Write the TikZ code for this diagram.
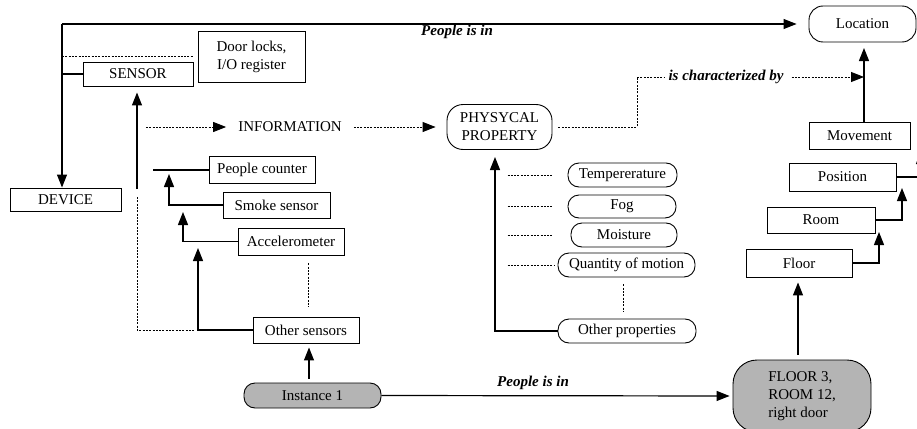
\documentclass[tikz,border=0pt]{standalone}
\usepackage{fontspec}
\setmainfont{Liberation Serif}
\usetikzlibrary{arrows.meta}
\definecolor{graybg}{RGB}{180,180,180}
\begin{document}
\begin{tikzpicture}[x=1pt,y=-1pt,
  every node/.style={font=\fontsize{15}{18}\selectfont, inner sep=0pt},
  box/.style={draw, line width=0.9pt},
  rbox/.style={box, rounded corners=11pt},
  gbox/.style={box, fill=graybg},
  con/.style={line width=1.2pt},
  arr/.style={con, -{Triangle[length=13pt,width=10pt]}},
  dsh/.style={line width=0.9pt, dash pattern=on 2pt off 1.3pt},
  darr/.style={dsh, -{Triangle[length=13pt,width=10pt]}},
  lbl/.style={font=\fontsize{15}{18}\selectfont\bfseries\itshape}
]
\useasboundingbox (0,0) rectangle (917,428);

% nodes
\node[rbox, rounded corners=14pt, minimum width=107pt, minimum height=36pt] (loc) at (862.5,24) {Location};
\node[box, minimum width=107pt, minimum height=51pt, align=center] (door) at (251.5,56.5) {Door locks,\\I/O register};
\node[box, minimum width=110pt, minimum height=24pt] (sensor) at (138,74) {SENSOR};
\node[box, minimum width=111pt, minimum height=23pt] (device) at (65.5,199.5) {DEVICE};
\node (info) at (290,127) {INFORMATION};
\node[rbox, rounded corners=16pt, minimum width=105pt, minimum height=45pt, align=center] (phys) at (499.5,127) {PHYSYCAL\\PROPERTY};
\node[box, minimum width=106pt, minimum height=27pt] (pc) at (262,170) {People counter};
\node[box, minimum width=107pt, minimum height=26pt] (smoke) at (276.5,205) {Smoke sensor};
\node[box, minimum width=106pt, minimum height=27pt] (accel) at (291,241.5) {Accelerometer};
\node[box, minimum width=106pt, minimum height=26pt] (other) at (306,330) {Other sensors};
\node[gbox, rounded corners=11pt, minimum width=137pt, minimum height=25pt] (inst) at (312.5,395.5) {Instance 1};
\node[rbox, minimum width=109pt, minimum height=24pt] (temp) at (622.5,175) {Tempererature};
\node[rbox, minimum width=108pt, minimum height=23pt] (fog) at (622,206.5) {Fog};
\node[rbox, minimum width=106pt, minimum height=24pt] (moist) at (624,235) {Moisture};
\node[rbox, minimum width=137pt, minimum height=24pt] (qty) at (626.5,265) {Quantity of motion};
\node[rbox, minimum width=138pt, minimum height=24pt] (othp) at (627,331) {Other properties};
\node[gbox, rounded corners=24pt, minimum width=138pt, minimum height=72pt, align=left] (fl3) at (802,396) {FLOOR 3,\\ROOM 12,\\right door};
\node[box, minimum width=106pt, minimum height=28pt] (floorb) at (799,263) {Floor};
\node[box, minimum width=108pt, minimum height=26pt] (room) at (821,220) {Room};
\node[box, minimum width=107pt, minimum height=28pt] (pos) at (842.5,177) {Position};
\node[box, minimum width=101pt, minimum height=27pt] (mov) at (859.5,135.5) {Movement};

% coordinates
\coordinate (tl) at (62,24);
\coordinate (sl) at (62,56);
\coordinate (sl2) at (62,74);
\coordinate (s1) at (137,189);
\coordinate (d1) at (137,197);
\coordinate (d2) at (137,330);
\coordinate (d3) at (195,330);
\coordinate (o2) at (198,248);
\coordinate (a2) at (183,212);
\coordinate (m2) at (169,174);
\coordinate (p1) at (153,171);
\coordinate (i0) at (146,127);
\coordinate (q2) at (495,157);
\coordinate (c2) at (637,77);
\coordinate (c3) at (864,77);
\coordinate (v1) at (864,122);
\coordinate (v2) at (864,48);
\coordinate (f2) at (879,232);
\coordinate (r2) at (902,188);
\coordinate (x2) at (921,151);

% top connectors
\draw[arr, shorten >=12pt] (tl) -- (loc.west);
\draw[arr] (tl) -- (tl |- device.north);
\node[lbl] (lb1) at (457,32) {People is in};
\draw[dsh, shorten >=4pt] (sl) -- (sl -| door.west);
\draw[con] (sl2) -- (sensor.west);

% sensor tree
\draw[arr, shorten >=6pt] (s1) -- (s1 |- sensor.south);
\draw[dsh] (d1) -- (d2) -- (d3);
\draw[arr] (other.west) -| (o2);
\draw[arr] (accel.west) -| (a2);
\draw[arr] (smoke.west) -| (m2);
\draw[con] (pc.west) -- (pc.west -| p1);
\draw[dsh, shorten <=8pt, shorten >=10pt] ([xshift=17pt]accel.south) -- ([xshift=2pt]other.north);
\draw[arr, shorten <=4pt, shorten >=4pt] ([xshift=3pt]other.south |- inst.north) -- ([xshift=3pt]other.south);

% information
\draw[darr, shorten >=12pt] (i0) -- (info.west);
\draw[darr, shorten <=12pt, shorten >=11pt] (info.east) -- (phys.west);

% characterized
\node[lbl] (chr) at (726,77) {is characterized by};
\draw[dsh, shorten <=6pt, shorten >=3pt] (phys.east) -| (c2) -- (chr.west);
\draw[darr, shorten <=8pt] (chr.east) -- (c3);

% properties
\draw[arr] (othp.west) -| (q2);
\draw[dsh] ([xshift=-60pt]temp.west) -- ([xshift=-15pt]temp.west);
\draw[dsh] ([xshift=-60pt]fog.west) -- ([xshift=-15pt]fog.west);
\draw[dsh] ([xshift=-63pt]moist.west) -- ([xshift=-18pt]moist.west);
\draw[dsh] ([xshift=-50pt]qty.west) -- ([xshift=-3pt]qty.west);
\draw[dsh, shorten <=7pt, shorten >=7pt] ([xshift=-3.5pt]qty.south) -- ([xshift=-3.5pt]qty.south |- othp.north);

% bottom
\draw[arr, shorten >=3pt] (inst.east) -- (fl3.west);
\node[lbl] (lb2) at (533,383) {People is in};

% right column
\draw[arr, shorten <=5pt, shorten >=5pt] ([xshift=-1pt]floorb.south |- fl3.north) -- ([xshift=-1pt]floorb.south);
\draw[arr] (floorb.east) -| (f2);
\draw[arr] (room.east) -| (r2);
\draw[arr] (pos.east) -| (x2);
\draw[arr] (v1) -- (v2);
\end{tikzpicture}
\end{document}
